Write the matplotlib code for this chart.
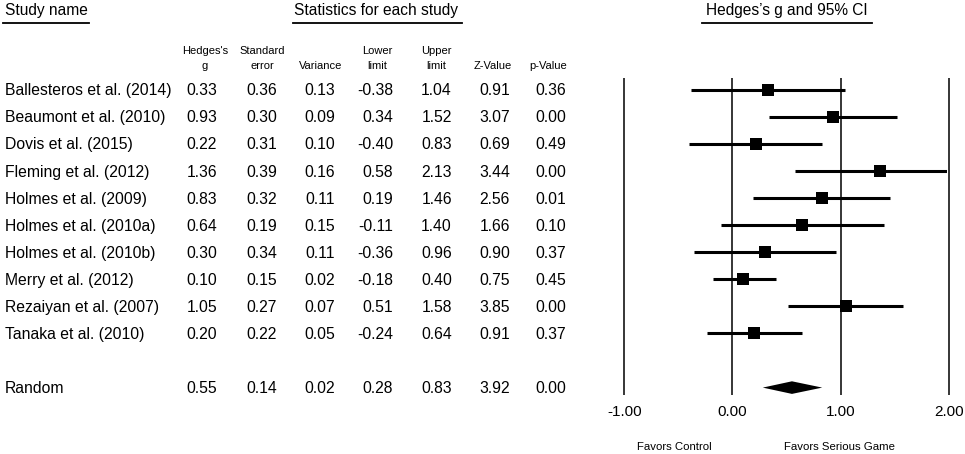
import matplotlib
matplotlib.use("Agg")
import matplotlib.pyplot as plt
import matplotlib.transforms as mtransforms

plt.rcParams['font.family'] = ['Liberation Sans', 'DejaVu Sans']

studies = ["Ballesteros et al. (2014)", "Beaumont et al. (2010)", "Dovis et al. (2015)",
           "Fleming et al. (2012)", "Holmes et al. (2009)", "Holmes et al. (2010a)",
           "Holmes et al. (2010b)", "Merry et al. (2012)", "Rezaiyan et al. (2007)",
           "Tanaka et al. (2010)"]
hedges_g = [0.33, 0.93, 0.22, 1.36, 0.83, 0.64, 0.30, 0.10, 1.05, 0.20]
std_err = [0.36, 0.30, 0.31, 0.39, 0.32, 0.19, 0.34, 0.15, 0.27, 0.22]
variance = [0.13, 0.09, 0.10, 0.16, 0.11, 0.15, 0.11, 0.02, 0.07, 0.05]
lower = [-0.38, 0.34, -0.40, 0.58, 0.19, -0.11, -0.36, -0.18, 0.51, -0.24]
upper = [1.04, 1.52, 0.83, 2.13, 1.46, 1.40, 0.96, 0.40, 1.58, 0.64]
z_value = [0.91, 3.07, 0.69, 3.44, 2.56, 1.66, 0.90, 0.75, 3.85, 0.91]
p_value = [0.36, 0.00, 0.49, 0.00, 0.01, 0.10, 0.37, 0.45, 0.00, 0.37]

summary_name = "Random"
summary = [0.55, 0.14, 0.02, 0.28, 0.83, 3.92, 0.00]  # g, se, var, lower, upper, z, p

col_headers = [("Hedges's", "g"), ("Standard", "error"), ("", "Variance"),
               ("Lower", "limit"), ("Upper", "limit"), ("", "Z-Value"), ("", "p-Value")]
axis_ticks = [-1.0, 0.0, 1.0, 2.0]
favors_left = "Favors Control"
favors_right = "Favors Serious Game"

W, H = 965, 454
fig = plt.figure(figsize=(W / 100, H / 100), dpi=100)

# pixel layout helpers
ROW0, ROWH = 89.5, 27.1
def fx(p):
    return p / W
def fy(p):
    return 1 - p / H

# Table axes: x in pixels, y in row index
tab = fig.add_axes([0, 0, 1, 1])
tab.set_xlim(0, W)
tab.set_ylim((H - ROW0) / ROWH, -ROW0 / ROWH)
tab.axis('off')
txt_tr = mtransforms.offset_copy(tab.transData, fig=fig, x=0, y=-5.8, units='dots')

FS = 11.3
col_right = [217, 277, 335, 393, 452, 510, 566]
col_center = [205, 262, 321, 377, 436, 493, 548]

rows = list(zip(hedges_g, std_err, variance, lower, upper, z_value, p_value))
for i, (name, vals) in enumerate(zip(studies, rows)):
    tab.text(5, i, name, fontsize=FS, ha='left', va='baseline', transform=txt_tr)
    for xr, v in zip(col_right, vals):
        tab.text(xr, i, f"{v:.2f}", fontsize=FS, ha='right', va='baseline', transform=txt_tr)
sum_row = len(studies) + 1
tab.text(5, sum_row, summary_name, fontsize=FS, ha='left', va='baseline', transform=txt_tr)
for xr, v in zip(col_right, summary):
    tab.text(xr, sum_row, f"{v:.2f}", fontsize=FS, ha='right', va='baseline', transform=txt_tr)

# Column sub-headers
for xc, (l1, l2) in zip(col_center, col_headers):
    if l1:
        fig.text(fx(xc), fy(51.5), l1, fontsize=8, ha='center', va='center')
    fig.text(fx(xc), fy(66), l2, fontsize=8, ha='center', va='center')

# Main headers with underlines
fig.text(fx(5), fy(10), "Study name", fontsize=11.2, ha='left', va='center')
fig.text(fx(376), fy(10), "Statistics for each study", fontsize=11.2, ha='center', va='center')
fig.text(fx(786.5), fy(10), "Hedges\u2019s g and 95% CI", fontsize=11.2, ha='center', va='center')
for x0, x1, yy in [(3, 89, 23), (293, 462, 23), (702, 872, 22.5)]:
    fig.add_artist(plt.Line2D([fx(x0), fx(x1)], [fy(yy), fy(yy)], color='black', lw=1.3,
                              transform=fig.transFigure))

# Forest axes
PXU = 108.1
xmin, xmax = -1.1, 1.98
ymin_row, ymax_row = -0.6, 11.6
left_px = 624.4 + (xmin + 1.0) * PXU
top_px = ROW0 + ymin_row * ROWH
bot_px = ROW0 + ymax_row * ROWH
ax = fig.add_axes([fx(left_px), 1 - bot_px / H, (xmax - xmin) * PXU / W, (bot_px - top_px) / H])
ax.set_xlim(xmin, xmax)
ax.set_ylim(ymax_row, ymin_row)
ax.axis('off')
ax.patch.set_alpha(0)

ax.vlines(axis_ticks, (78 - ROW0) / ROWH, (395 - ROW0) / ROWH, color='black', lw=1.1,
          clip_on=False)
for i, (g, lo, hi) in enumerate(zip(hedges_g, lower, upper)):
    ax.plot([lo, hi], [i, i], color='black', lw=2.2, solid_capstyle='butt')
    ax.plot([g], [i], marker='s', color='black', markersize=8.3, markeredgewidth=0)

hh = 6.3 / ROWH
ax.fill([summary[3], summary[0], summary[4], summary[0]],
        [sum_row, sum_row - hh, sum_row, sum_row + hh], color='black', lw=0)

tick_tr = mtransforms.blended_transform_factory(ax.transData, fig.transFigure)
for t in axis_ticks:
    ax.text(t, fy(412), f"{t:.2f}", fontsize=11, ha='center', va='center', transform=tick_tr)

fig.text(fx(674.5), fy(447), favors_left, fontsize=8.2, ha='center', va='center')
fig.text(fx(839.5), fy(447), favors_right, fontsize=8.2, ha='center', va='center')

fig.savefig("out.png", dpi=100)
